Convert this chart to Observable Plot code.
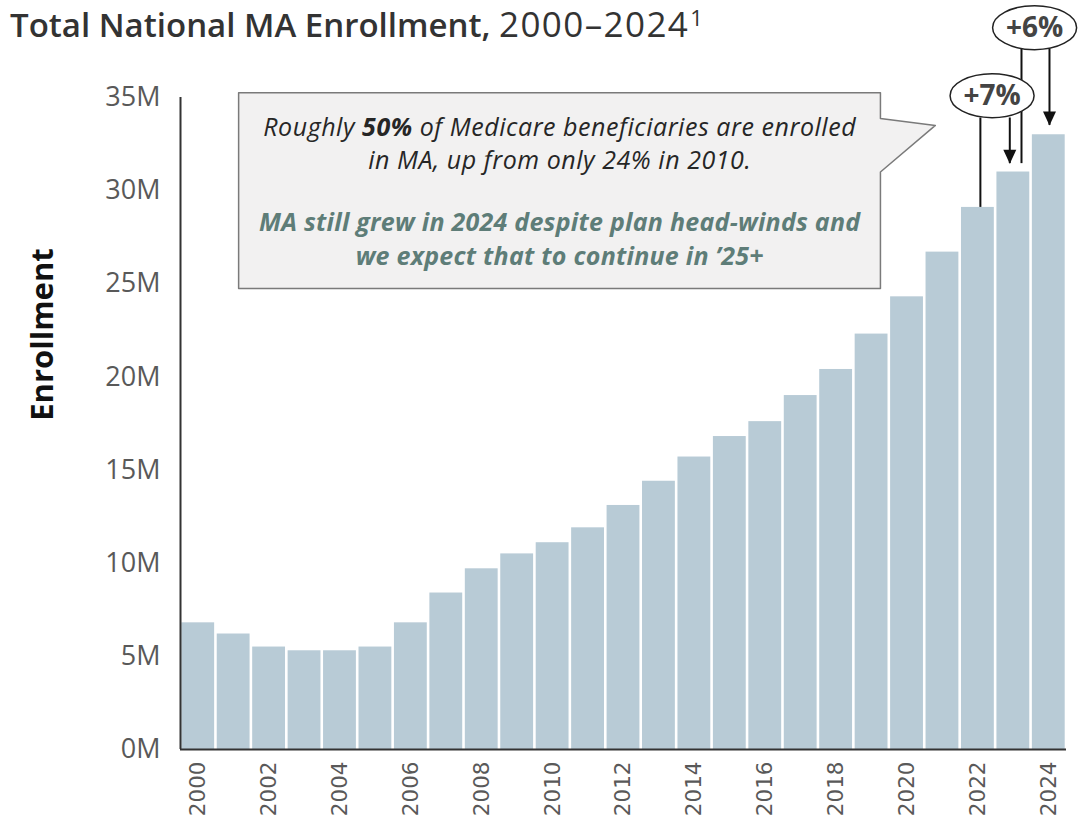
<!DOCTYPE html>
<html><head><meta charset="utf-8">
<script src="https://cdn.jsdelivr.net/npm/d3@7"></script>
<script src="https://cdn.jsdelivr.net/npm/@observablehq/plot@0.6"></script>
<style>
body{margin:0;background:#fff;}
#wrap{position:relative;width:1088px;height:826px;}
#title{position:absolute;left:10px;top:0px;z-index:2;font-family:"Open Sans",sans-serif;font-size:33px;color:#333;white-space:nowrap;}
#title b{font-weight:600;}
#title .yr{font-size:35px;letter-spacing:1.4px;}
#title sup{font-size:22px;vertical-align:top;position:relative;top:2px;margin-left:1px;}
#chart g[aria-label="y-axis tick label"] text{font-family:"Open Sans",sans-serif;font-size:27px;fill:#595959;}
#chart g[aria-label="x-axis tick label"] text{font-family:"DejaVu Sans",sans-serif;font-size:21.5px;fill:#595959;}
</style></head><body>
<div id="wrap"><div id="title"><b>Total National MA Enrollment,</b> <span class="yr">2000–2024</span><sup>1</sup></div><div id="chart"></div></div>
<script>
// ---- data (millions of enrollees) ----
const years = [2000,2001,2002,2003,2004,2005,2006,2007,2008,2009,2010,2011,2012,2013,2014,2015,2016,2017,2018,2019,2020,2021,2022,2023,2024];
const enrollment = [6.8,6.2,5.5,5.3,5.3,5.5,6.8,8.4,9.7,10.5,11.1,11.9,13.1,14.4,15.7,16.8,17.6,19.0,20.4,22.3,24.3,26.7,29.1,31.0,33.0];
const yTicks = [0,5,10,15,20,25,30,35];
const xTickYears = [2000,2002,2004,2006,2008,2010,2012,2014,2016,2018,2020,2022,2024];
const yLabel = "Enrollment";

// annotation box (data space: year, millions)
const noteLines1 = ["Roughly 50% of Medicare beneficiaries are enrolled", "in MA, up from only 24% in 2010."];
const noteLines2 = ["MA still grew in 2024 despite plan head-winds and", "we expect that to continue in ’25+"];
const noteEmphasis = "50%";
const noteLineY1 = [33.35, 31.6];
const noteLineY2 = [28.25, 26.45];
const noteCenterX = 2010.2;
const boxOutlineX = [2001.14, 2019.25, 2019.25, 2020.8, 2019.25, 2019.25, 2001.14, 2001.14];
const boxOutlineY = [35.26, 35.26, 33.87, 33.5, 31.0, 24.75, 24.75, 35.26];

// growth callouts
const calloutLabels = ["+7%", "+6%"];
const calloutX = [2022.4, 2023.6];
const calloutY = [35.1, 38.75];
const connectorX = [2022.07, 2022.9, 2023.23, 2024.02];
const connectorTop = [33.9, 33.9, 37.6, 37.6];
const connectorBottom = [29.1, 31.45, 31.45, 33.5];
const connectorArrow = [false, true, false, true];

// ---- tables built from the arrays ----
const bars = years.map((y, i) => ({year: y, value: enrollment[i]}));
const box = boxOutlineX.map((x, i) => ({x, y: boxOutlineY[i]}));
const notes1 = noteLines1.map((t, i) => ({text: t, y: noteLineY1[i]}));
const notes2 = noteLines2.map((t, i) => ({text: t, y: noteLineY2[i]}));
const callouts = calloutLabels.map((t, i) => ({text: t, x: calloutX[i], y: calloutY[i]}));
const connectors = connectorX.map((x, i) => ({x, y1: connectorTop[i], y2: connectorBottom[i], arrow: connectorArrow[i]}));

const ellipse = {draw(ctx) {
  const rx = 42, ry = 22, k = 0.5523;
  ctx.moveTo(rx, 0);
  ctx.bezierCurveTo(rx, ry*k, rx*k, ry, 0, ry);
  ctx.bezierCurveTo(-rx*k, ry, -rx, ry*k, -rx, 0);
  ctx.bezierCurveTo(-rx, -ry*k, -rx*k, -ry, 0, -ry);
  ctx.bezierCurveTo(rx*k, -ry, rx, -ry*k, rx, 0);
  ctx.closePath();
}};
const arrowHead = {draw(ctx) {
  ctx.moveTo(-6.5, -14); ctx.lineTo(6.5, -14); ctx.lineTo(0, 0); ctx.closePath();
}};

const chart = Plot.plot({
  width: 1088, height: 826,
  marginTop: 97, marginBottom: 77, marginLeft: 180, marginRight: 22,
  x: {domain: [1999.5, 2024.5]},
  y: {domain: [0, 35]},
  style: {fontFamily: "Open Sans, sans-serif", overflow: "visible"},
  marks: [
    Plot.rectY(bars, {x1: d => d.year - 0.5, x2: d => d.year + 0.5, y: "value", fill: "#b8cbd6", insetLeft: 1.3, insetRight: 1.3}),
    Plot.axisY({ticks: yTicks, tickFormat: d => d + "M", tickSize: 0, tickPadding: 20, label: null}),
    Plot.axisX({ticks: xTickYears, tickFormat: d => String(d), tickRotate: -90, tickSize: 0, tickPadding: 12, label: null}),
    Plot.ruleX([1999.5], {y1: 0, y2: 35, stroke: "#333", strokeWidth: 2}),
    Plot.ruleY([0], {x1: 1999.5, x2: 2024.5, stroke: "#333", strokeWidth: 2}),
    Plot.text([yLabel], {frameAnchor: "left", dx: -137, dy: -89, rotate: -90, textAnchor: "middle", fontSize: 31, fontWeight: "bold", fill: "#111"}),
    // annotation box
    Plot.line(box, {x: "x", y: "y", fill: "#f2f1f1", stroke: "#7a7a7a", strokeWidth: 1.5, curve: "linear"}),
    Plot.text(notes1, {x: noteCenterX, y: "y", text: "text", fontSize: 25, fontStyle: "italic", fill: "#262626"}),
    Plot.text(notes2, {x: noteCenterX, y: "y", text: "text", fontSize: 25, fontStyle: "italic", fontWeight: "bold", fill: "#5e7d78"}),
    // growth callouts
    Plot.ruleX(connectors, {x: "x", y1: "y1", y2: "y2", stroke: "#111", strokeWidth: 2}),
    Plot.dot(connectors.filter(d => d.arrow), {x: "x", y: "y2", symbol: arrowHead, r: 6, fill: "#111", stroke: "none"}),
    Plot.dot(callouts, {x: "x", y: "y", symbol: ellipse, r: 20, fill: "white", stroke: "#222", strokeWidth: 1.5}),
    Plot.text(callouts, {x: "x", y: "y", text: "text", fontSize: 28, fontWeight: "bold", fill: "#444"})
  ]
});
document.getElementById("chart").appendChild(chart);

// letter spacing for the note lines, bold emphasis inside the first line
d3.select(chart).selectAll("text").each(function() {
  const t = this.textContent;
  if (noteLines1.includes(t)) this.style.letterSpacing = "0.55px";
  if (noteLines2.includes(t)) this.style.letterSpacing = "0.25px";
  if (this.childElementCount === 0 && t.startsWith("Roughly") && t.includes(noteEmphasis)) {
    const i = t.indexOf(noteEmphasis);
    const el = d3.select(this); el.text(null);
    el.append("tspan").text(t.slice(0, i));
    el.append("tspan").attr("font-weight", "bold").text(noteEmphasis);
    el.append("tspan").text(t.slice(i + noteEmphasis.length));
  }
});
</script>
</body></html>
